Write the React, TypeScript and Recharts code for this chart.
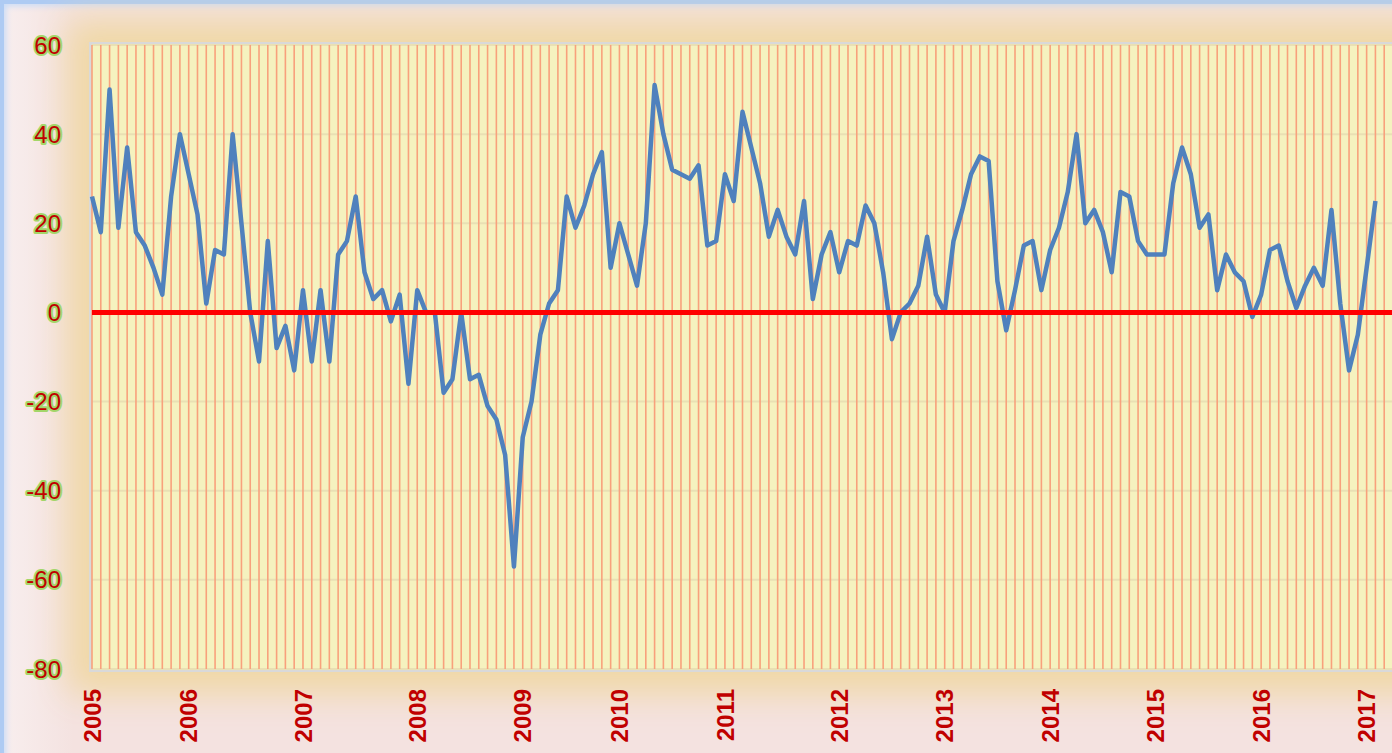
import React from "react";
import {
  LineChart,
  Line,
  XAxis,
  YAxis,
  CartesianGrid,
  ReferenceLine,
} from "recharts";

// monthly readings, first point at the 2005 label
const values = [
  26, 18, 50, 19, 37, 18, 15, 10, 4, 26, 40, 31, 22, 2, 14, 13, 40, 20, 0, -11,
  16, -8, -3, -13, 5, -11, 5, -11, 13, 16, 26, 9, 3, 5, -2, 4, -16, 5, 0, 0,
  -18, -15, 0, -15, -14, -21, -24, -32, -57, -28, -20, -5, 2, 5, 26, 19, 24, 31,
  36, 10, 20, 13, 6, 20, 51, 40, 32, 31, 30, 33, 15, 16, 31, 25, 45, 37, 29, 17,
  23, 17, 13, 25, 3, 13, 18, 9, 16, 15, 24, 20, 9, -6, 0, 2, 6, 17, 4, 0, 16, 23,
  31, 35, 34, 7, -4, 5, 15, 16, 5, 14, 19, 27, 40, 20, 23, 18, 9, 27, 26, 16, 13,
  13, 13, 29, 37, 31, 19, 22, 5, 13, 9, 7, -1, 4, 14, 15, 7, 1, 6, 10, 6, 23, 2,
  -13, -5, 10, 25,
];

const yearLabels = [
  "2005", "2006", "2007", "2008", "2009", "2010", "2011",
  "2012", "2013", "2014", "2015", "2016", "2017",
];
const yearPositions = [0, 11, 24, 37, 49, 60, 72, 85, 97, 109, 121, 133, 145];

const yTicks = [-80, -60, -40, -20, 0, 20, 40, 60];

const data = values.map((v, i) => ({ i, v }));
const lastSlot = 148;
const monthTicks = Array.from({ length: lastSlot + 1 }, (_, k) => k);

const XTick = (props: any) => {
  const { x, y, payload } = props;
  const pos = yearPositions.indexOf(payload.value);
  if (pos < 0) return null;
  return (
    <text
      x={x}
      y={y + 12}
      transform={`rotate(-90, ${x}, ${y + 12})`}
      textAnchor="end"
      dy="0.36em"
      fill="#c00000"
      fontFamily="Liberation Sans, Arial, sans-serif"
      fontWeight="bold"
      fontSize={24}
    >
      {yearLabels[pos]}
    </text>
  );
};

const YTick = (props: any) => {
  const { y, payload } = props;
  return (
    <text
      x={61}
      y={y}
      dy="0.36em"
      textAnchor="end"
      fill="#c00000"
      stroke="#a3d66a"
      strokeWidth={4}
      strokeLinejoin="round"
      paintOrder="stroke"
      fontFamily="Liberation Sans, Arial, sans-serif"
      fontSize={24}
    >
      {payload.value}
    </text>
  );
};

export default function App() {
  return (
    <div
      style={{
        position: "absolute",
        left: 0,
        top: 0,
        width: 1392,
        height: 753,
        overflow: "hidden",
        background: "#f4e2e0",
      }}
    >
      {/* blue frame, only top and left edges fall inside the window */}
      <div
        style={{
          position: "absolute",
          left: 0,
          top: 0,
          width: 1430,
          height: 800,
          border: "4px solid #aecbf3",
          boxShadow: "inset 0 0 6px 2px #c7dbf7",
          background:
            "linear-gradient(to right, #f8eeee 0px, rgba(244,226,224,0) 70px)",
        }}
      />
      {/* tan glow + gray border around the plot */}
      <div
        style={{
          position: "absolute",
          left: 89,
          top: 42,
          width: 1320,
          height: 624,
          border: "3px solid #d9d9d9",
          boxShadow: "0 0 32px 22px #f0d8a6",
          background: "#f5f2bf",
        }}
      />
      <div style={{ position: "absolute", left: 0, top: 0 }}>
        <LineChart
          width={1400}
          height={753}
          data={data}
          margin={{ top: 45, right: 7, left: 0, bottom: 0 }}
        >
          <CartesianGrid
            horizontal={true}
            vertical={false}
            stroke="#e9e0b4"
            strokeWidth={2}
          />
          <CartesianGrid
            horizontal={false}
            vertical={true}
            stroke="#f8a17c"
            strokeWidth={1.6}
          />
          <XAxis
            dataKey="i"
            type="number"
            domain={[0, lastSlot]}
            ticks={monthTicks}
            interval={0}
            height={84}
            axisLine={false}
            tickLine={false}
            tick={<XTick />}
          />
          <YAxis
            type="number"
            domain={[-80, 60]}
            ticks={yTicks}
            interval={0}
            width={92}
            axisLine={false}
            tickLine={false}
            tick={<YTick />}
          />
          <Line
            type="linear"
            dataKey="v"
            stroke="#4f81bd"
            strokeWidth={4.5}
            strokeLinejoin="round"
            dot={false}
            activeDot={false}
            isAnimationActive={false}
          />
          <ReferenceLine y={0} stroke="#ff0000" strokeWidth={5} />
        </LineChart>
      </div>
    </div>
  );
}
